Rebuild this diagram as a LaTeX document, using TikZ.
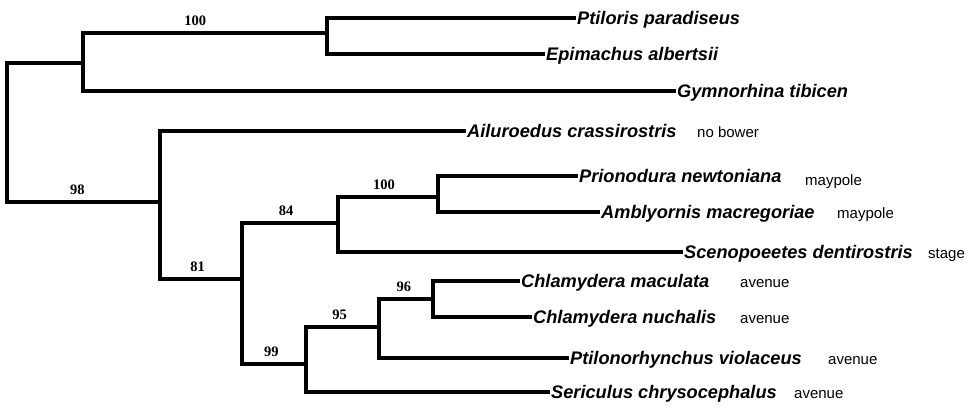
\documentclass[tikz,border=0pt]{standalone}
\usepackage{fontspec}
\setmainfont{Liberation Serif}
\setsansfont{Liberation Sans}
\usepackage{tikz}
\tikzset{
  branch/.style={line width=3.2pt, color=black, line join=miter},
  taxon/.style={anchor=west, inner sep=1pt, text height=13pt, text depth=0pt,
    font=\sffamily\bfseries\itshape\fontsize{18.2}{20}\selectfont},
  bower/.style={anchor=base west, inner sep=0pt,
    font=\sffamily\fontsize{15}{16}\selectfont},
  boot/.style={pos=0.73, above=5pt, inner sep=1pt,
    font=\bfseries\fontsize{14.5}{16}\selectfont}
}

\begin{document}
\begin{tikzpicture}[x=1pt, y=-1pt]
    \useasboundingbox (0,0) rectangle (969,407);

    % Taxa
    \node[taxon] (ptil) at (576,18) {Ptiloris paradiseus};
    \node[taxon] (epim) at (545,54) {Epimachus albertsii};
    \node[taxon] (gymn) at (676,91) {Gymnorhina tibicen};
    \node[taxon] (ailu) at (466,131) {Ailuroedus crassirostris};
    \node[taxon] (prio) at (578,176) {Prionodura newtoniana};
    \node[taxon] (ambl) at (600,212) {Amblyornis macregoriae};
    \node[taxon] (scen) at (683,252) {Scenopoeetes dentirostris};
    \node[taxon] (cmac) at (520,281) {Chlamydera maculata};
    \node[taxon] (cnuc) at (532,317) {Chlamydera nuchalis};
    \node[taxon] (ptln) at (569,358) {Ptilonorhynchus violaceus};
    \node[taxon] (seri) at (550,392) {Sericulus chrysocephalus};

    % Bower types
    \node[bower] (b-ailu) at (697,137.5) {no bower};
    \node[bower] (b-prio) at (805,185) {maypole};
    \node[bower] (b-ambl) at (837,218.5) {maypole};
    \node[bower] (b-scen) at (928,258.5) {stage};
    \node[bower] (b-cmac) at (740,287.5) {avenue};
    \node[bower] (b-cnuc) at (740,323.5) {avenue};
    \node[bower] (b-ptln) at (828,364.5) {avenue};
    \node[bower] (b-seri) at (794,398) {avenue};

    % Internal nodes
    \coordinate (root) at (7,132);
    \coordinate (outg) at (83,63);
    \coordinate (c100) at (327,33);
    \coordinate (c98) at (160,202);
    \coordinate (c81) at (242,279);
    \coordinate (c84) at (338,223);
    \coordinate (c100b) at (438,197);
    \coordinate (c99) at (306,364);
    \coordinate (c95) at (379,327);
    \coordinate (c96) at (433,299);

    % Outgroup
    \draw[branch] (root) |- (outg);
    \draw[branch] (outg) |- node[boot] {100} (c100);
    \draw[branch] (c100) |- (ptil.west);
    \draw[branch] (c100) |- (epim.west);
    \draw[branch] (outg) |- (gymn.west);

    % Bowerbirds
    \draw[branch] (root) |- node[boot] {98} (c98);
    \draw[branch] (c98) |- (ailu.west);
    \draw[branch] (c98) |- node[boot] {81} (c81);
    \draw[branch] (c81) |- node[boot] {84} (c84);
    \draw[branch] (c84) |- node[boot] {100} (c100b);
    \draw[branch] (c100b) |- (prio.west);
    \draw[branch] (c100b) |- (ambl.west);
    \draw[branch] (c84) |- (scen.west);
    \draw[branch] (c81) |- node[boot] {99} (c99);
    \draw[branch] (c99) |- node[boot] {95} (c95);
    \draw[branch] (c95) |- node[boot] {96} (c96);
    \draw[branch] (c96) |- (cmac.west);
    \draw[branch] (c96) |- (cnuc.west);
    \draw[branch] (c95) |- (ptln.west);
    \draw[branch] (c99) |- (seri.west);
\end{tikzpicture}
\end{document}
